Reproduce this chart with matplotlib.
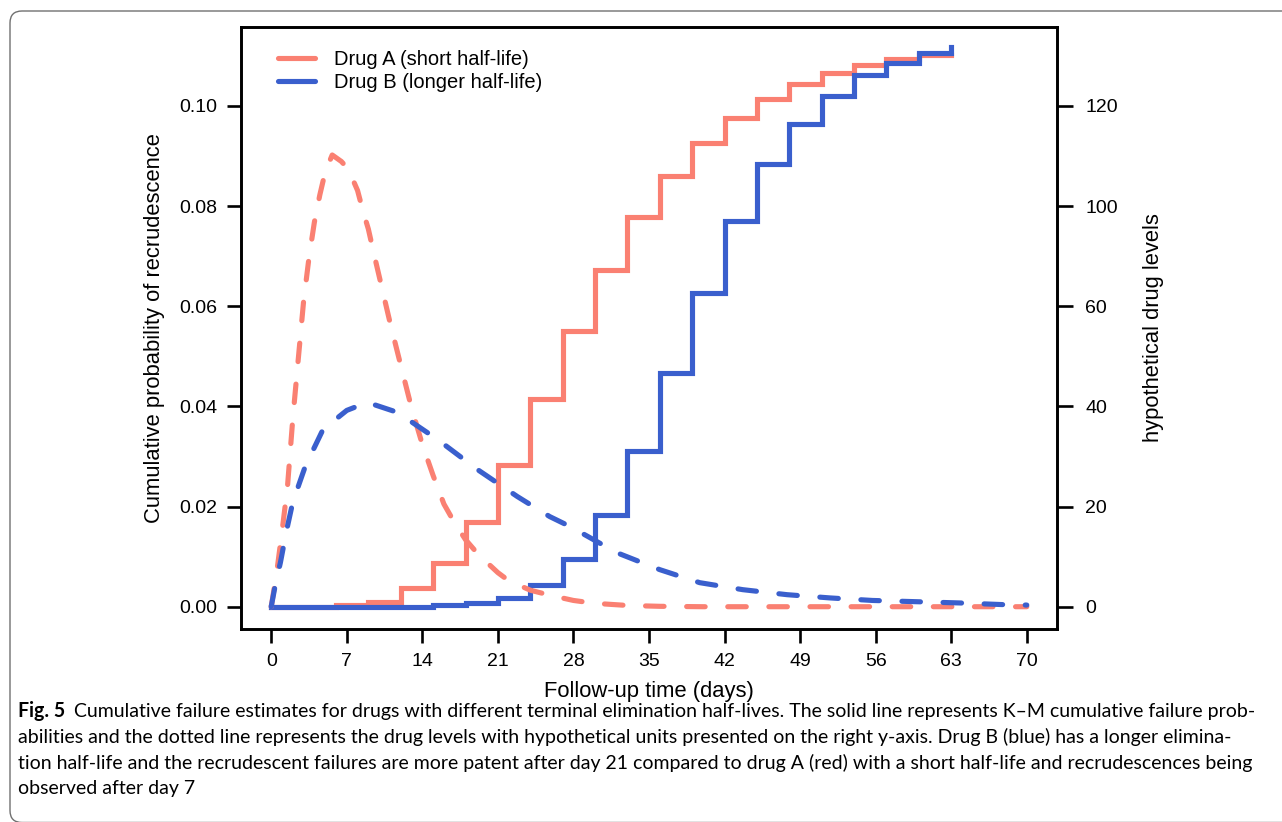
import numpy as np
import matplotlib.pyplot as plt
from matplotlib.lines import Line2D
from matplotlib.patches import FancyBboxPatch

# Kaplan-Meier cumulative failure steps (left axis)
drug_a_days = [0, 6, 9, 12, 15, 18, 21, 24, 27, 30, 33, 36, 39, 42, 45, 48, 51, 54, 57, 60, 63]
drug_a_fail = [0, 0.0004, 0.001, 0.0038, 0.0088, 0.017, 0.0283, 0.0415, 0.055, 0.0673,
               0.0778, 0.086, 0.0926, 0.0976, 0.1014, 0.1044, 0.1066, 0.1082, 0.1093, 0.1102, 0.1102]
drug_b_days = [0, 15, 18, 21, 24, 27, 30, 33, 36, 39, 42, 45, 48, 51, 54, 57, 60, 63]
drug_b_fail = [0, 0.00026, 0.00074, 0.0018, 0.0044, 0.0096, 0.0184, 0.0311, 0.0467, 0.0627,
               0.077, 0.0884, 0.0964, 0.102, 0.1062, 0.1086, 0.1106, 0.1118]

# hypothetical drug levels (right axis)
level_a_days = [0, 0.5, 1, 1.5, 2, 2.5, 3, 3.5, 4, 4.5, 5, 5.65, 6.5, 7, 7.5, 8, 8.5, 9, 9.5,
                10, 11, 12, 13, 14, 15, 16, 17, 18, 19, 20, 21, 22, 24, 26, 28, 30, 33, 36,
                40, 50, 60, 70]
level_a = [0, 6.7, 15, 23.8, 37.6, 49.3, 61, 69.7, 76.8, 82.2, 86.8, 90.2, 88.9, 87.7, 85.6,
           83.1, 79, 75.4, 70.6, 66, 56.8, 48.2, 39.7, 32.4, 26.2, 20.5, 16.7, 13.4, 10.9,
           8.8, 6.8, 5.2, 3.3, 2.2, 1.25, 0.67, 0.25, 0.08, 0, 0, 0, 0]
level_b_days = [0, 0.4, 0.85, 1.4, 2, 3.15, 4.8, 7, 8.9, 11.7, 15.4, 19.1, 22.8, 25.8, 27.7,
                32, 36, 39.7, 43.7, 47.8, 51.8, 55.7, 59.8, 63.8, 67.8, 70]
level_b = [0, 4.6, 8.8, 15, 20.9, 28, 35.4, 39.2, 40.8, 38.8, 33.4, 27.4, 22, 18, 16,
           10.8, 7.4, 4.8, 3.4, 2.4, 1.75, 1.25, 1.0, 0.75, 0.42, 0.33]

# right axis tick labels as printed in the figure
level_ticks = [0, 20, 40, 60, 80, 100]
level_tick_labels = ["0", "20", "40", "60", "100", "120"]

labels = ["Drug A (short half-life)", "Drug B (longer half-life)"]
red = "#FA8072"
blue = "#3A5FCD"

plt.rcParams['font.family'] = ['Liberation Sans', 'DejaVu Sans']

fig = plt.figure(figsize=(12.82, 8.22), dpi=100)
ax = fig.add_axes([241 / 1282, 1 - 629 / 822, 816 / 1282, 602 / 822])

ax.step(drug_a_days, drug_a_fail, where='post', color=red, lw=3.7, solid_joinstyle='miter')
ax.step(drug_b_days, drug_b_fail, where='post', color=blue, lw=3.7, solid_joinstyle='miter')
ax.set_xlim(-2.8, 72.8)
ax.set_ylim(-0.00445, 0.11575)
ax.set_xticks(range(0, 71, 7))
ax.set_yticks([0, 0.02, 0.04, 0.06, 0.08, 0.10])
ax.set_yticklabels(["%.2f" % v for v in [0, 0.02, 0.04, 0.06, 0.08, 0.10]])
ax.set_xlabel("Follow-up time (days)", fontsize=15.8, labelpad=8)
ax.set_ylabel("Cumulative probability of recrudescence", fontsize=15.8, labelpad=10)

ax2 = ax.twinx()
dash = (0, (3.6, 4.4))
ax2.plot(level_a_days, level_a, color=red, lw=3.7, linestyle=dash, dash_capstyle='round')
ax2.plot(level_b_days, level_b, color=blue, lw=3.7, linestyle=dash, dash_capstyle='round')
ax2.set_ylim(-4.45, 115.75)
ax2.set_yticks(level_ticks)
ax2.set_yticklabels(level_tick_labels)
ax2.set_ylabel("hypothetical drug levels", fontsize=15.8, labelpad=18)

for s in ax.spines.values():
    s.set_linewidth(1.9)
for s in ax2.spines.values():
    s.set_linewidth(1.9)
ax.tick_params(length=10, width=1.9, labelsize=14, pad=7)
ax2.tick_params(length=11.5, width=1.9, labelsize=14, pad=9)

handles = [Line2D([], [], color=red, lw=3.7, solid_capstyle='round'),
           Line2D([], [], color=blue, lw=3.7, solid_capstyle='round')]
ax2.legend(handles, labels, loc='upper left', bbox_to_anchor=(0.045, 0.962), frameon=False,
           fontsize=14.5, handlelength=1.85, handletextpad=0.95, labelspacing=0.2,
           borderaxespad=0, borderpad=0)

# caption box and text
box = FancyBboxPatch((10, -0.5), 1400, 811.5, boxstyle="round,pad=0,rounding_size=12",
                     transform=None, fill=False, edgecolor='#707070', lw=1.0)
fig.patches.append(box)

cap_font = ['Lato', 'Liberation Sans']
cap_lines = [
    "Cumulative failure estimates for drugs with different terminal elimination half-lives. The solid line represents K\u2013M cumulative failure prob-",
    "abilities and the dotted line represents the drug levels with hypothetical units presented on the right y-axis. Drug B (blue) has a longer elimina-",
    "tion half-life and the recrudescent failures are more patent after day 21 compared to drug A (red) with a short half-life and recrudescences being",
    "observed after day 7",
]
renderer = fig.canvas.get_renderer()
# pick a caption size so the third line fills the same width as in the figure
probe = fig.text(0, 0, cap_lines[2], fontsize=14, family=cap_font)
cap_size = 14 * (1242 / probe.get_window_extent(renderer).width)
probe.remove()

head = fig.text(18 / 1282, 1 - 711 / 822, "Fig. 5", fontsize=cap_size, fontweight='bold',
                family=cap_font, va='center')
head_w = head.get_window_extent(renderer).width
fig.text((18 + head_w + 9) / 1282, 1 - 711 / 822, cap_lines[0], fontsize=cap_size,
         family=cap_font, va='center')
for i, line in enumerate(cap_lines[1:]):
    fig.text(18 / 1282, 1 - (737 + 25.5 * i) / 822, line, fontsize=cap_size, family=cap_font,
             va='center')

fig.savefig("out.png", dpi=100)
